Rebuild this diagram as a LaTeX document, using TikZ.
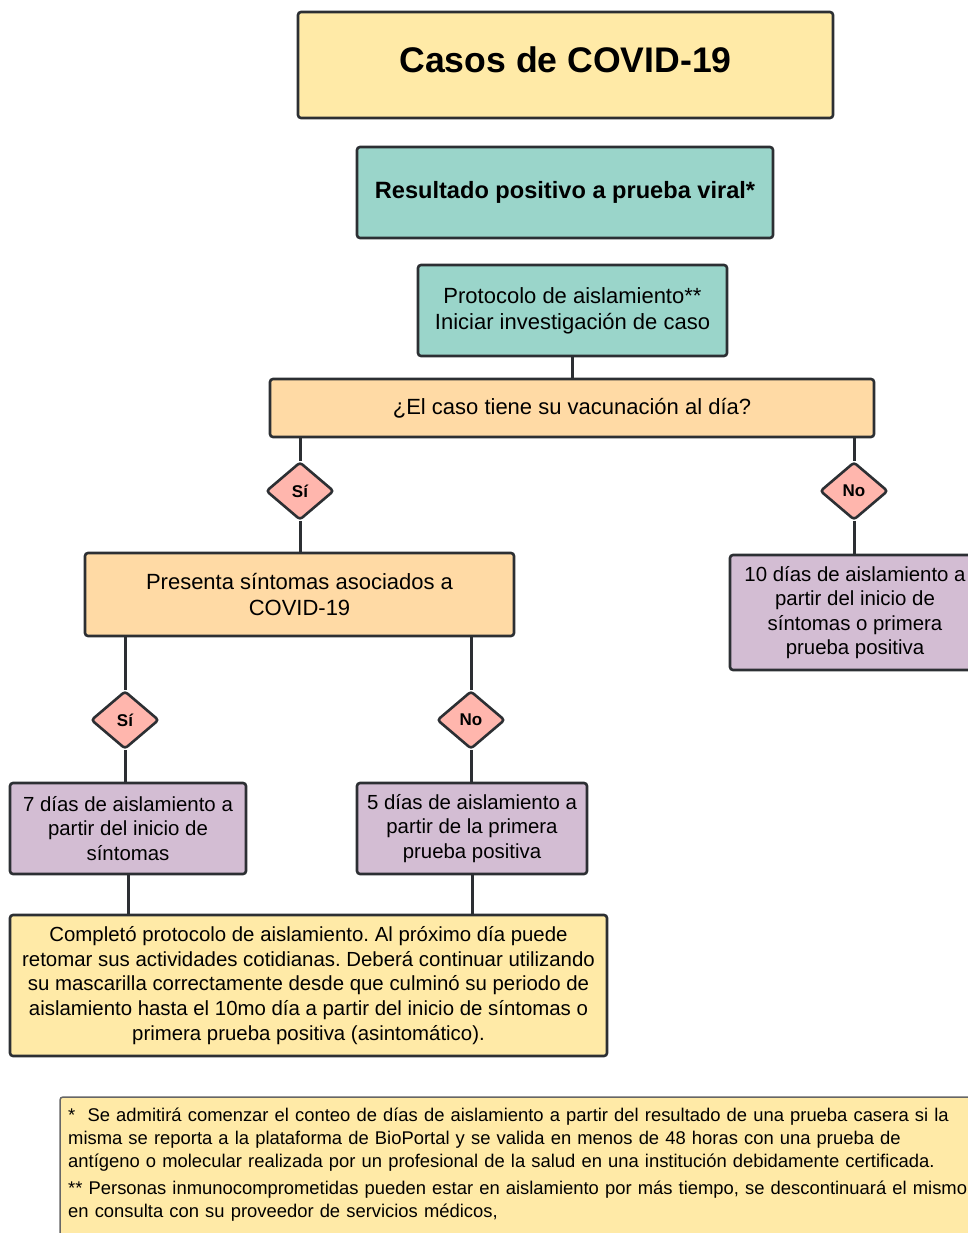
\documentclass[tikz,border=0pt]{standalone}
\usepackage{fontspec}
\setmainfont{Liberation Sans}
\frenchspacing
\usetikzlibrary{shapes.geometric}
\definecolor{borde}{HTML}{2C2F33}
\definecolor{amarillo}{HTML}{FFEAA7}
\definecolor{verde}{HTML}{9AD5CA}
\definecolor{naranja}{HTML}{FFDAA5}
\definecolor{rosa}{HTML}{FFB6AD}
\definecolor{lila}{HTML}{D3BDD3}
\begin{document}
\begin{tikzpicture}
        [x=1pt,y=-1pt,
        caja/.style={draw=borde,line width=2.6pt,rounded corners=3pt,inner sep=0pt,align=center,
          font=\fontsize{20.4}{24.6}\selectfont},
        pregunta/.style={caja,font=\fontsize{22}{26}\selectfont},
        decision/.style={diamond,draw=borde,fill=rosa,line width=2.6pt,rounded corners=3pt,inner sep=0pt,
          minimum width=68pt,minimum height=58pt,font=\bfseries\fontsize{17}{20}\selectfont},
        enlace/.style={draw=borde,line width=3pt}]
        \useasboundingbox (0,0) rectangle (967,1233);
        % cajas principales
        \node[caja,fill=amarillo,minimum width=535pt,minimum height=106pt,text depth=10pt,
          font=\bfseries\fontsize{35.6}{40}\selectfont] (titulo) at (565.5,65) {Casos de COVID-19};
        \node[caja,fill=verde,minimum width=416pt,minimum height=91pt,
          font=\bfseries\fontsize{23.6}{27}\selectfont] (resultado) at (565,192.5) {Resultado positivo a prueba viral*};
        \node[pregunta,fill=verde,minimum width=309pt,minimum height=91pt] (protocolo) at (572.5,310.5)
          {Protocolo de aislamiento**\\Iniciar investigación de caso};
        \node[pregunta,fill=naranja,minimum width=604pt,minimum height=58pt] (vacuna) at (572,408)
          {¿El caso tiene su vacunación al día?};
        \node[decision] (si1) at (300,491) {Sí};
        \node[decision] (no1) at (854,491) {No};
        \node[pregunta,fill=naranja,minimum width=429pt,minimum height=83pt] (presenta) at (299.5,594.5)
          {Presenta síntomas asociados a\\COVID-19};
        \node[caja,fill=lila,minimum width=250pt,minimum height=115pt] (diez) at (855,612.5)
          {10 días de aislamiento a\\partir del inicio de\\síntomas o primera\\prueba positiva};
        \node[decision] (si2) at (125,720) {Sí};
        \node[decision] (no2) at (471,720) {No};
        \node[caja,fill=lila,minimum width=236pt,minimum height=91pt] (siete) at (128,828.5)
          {7 días de aislamiento a\\partir del inicio de\\síntomas};
        \node[caja,fill=lila,minimum width=230pt,minimum height=91pt] (cinco) at (472,828.5)
          {5 días de aislamiento a\\partir de la primera\\prueba positiva};
        \node[caja,fill=amarillo,minimum width=597pt,minimum height=141pt] (completo) at (308.5,985.5)
          {Completó protocolo de aislamiento. Al próximo día puede\\
           retomar sus actividades cotidianas. Deberá continuar utilizando\\
           su mascarilla correctamente desde que culminó su periodo de\\
           aislamiento hasta el 10mo día a partir del inicio de síntomas o\\
           primera prueba positiva (asintomático).};
        % conectores
        \draw[enlace] (protocolo.south) -- (vacuna.north -| protocolo.south);
        \draw[enlace] (vacuna.south -| si1.north) -- (si1.north);
        \draw[enlace] (si1.south) -- (presenta.north -| si1.south);
        \draw[enlace] (vacuna.south -| no1.north) -- (no1.north);
        \draw[enlace] (no1.south) -- (diez.north -| no1.south);
        \draw[enlace] (presenta.south -| si2.north) -- (si2.north);
        \draw[enlace] (si2.south) -- (siete.north -| si2.south);
        \draw[enlace] (presenta.south -| no2.north) -- (no2.north);
        \draw[enlace] (no2.south) -- (cinco.north -| no2.south);
        \draw[enlace] (siete.south) -- (completo.north -| siete.south);
        \draw[enlace] (cinco.south) -- (completo.north -| cinco.south);
        % notas
        \draw[draw=gray!80!black,fill=amarillo,line width=1.5pt,rounded corners=3pt] (60,1097) rectangle (1000,1260);
        \node[anchor=north west,inner sep=0pt,text width=960pt,align=left,
          font=\fontsize{18.4}{23}\selectfont] (notas) at (68,1108)
          {*\ \ Se admitirá comenzar el conteo de días de aislamiento a partir del resultado de una prueba casera si la\\
           misma se reporta a la plataforma de BioPortal y se valida en menos de 48 horas con una prueba de\\
           antígeno o molecular realizada por un profesional de la salud en una institución debidamente certificada.\\[4pt]
           ** Personas inmunocomprometidas pueden estar en aislamiento por más tiempo, se descontinuará el mismo\\
           en consulta con su proveedor de servicios médicos,};
\end{tikzpicture}
\end{document}
